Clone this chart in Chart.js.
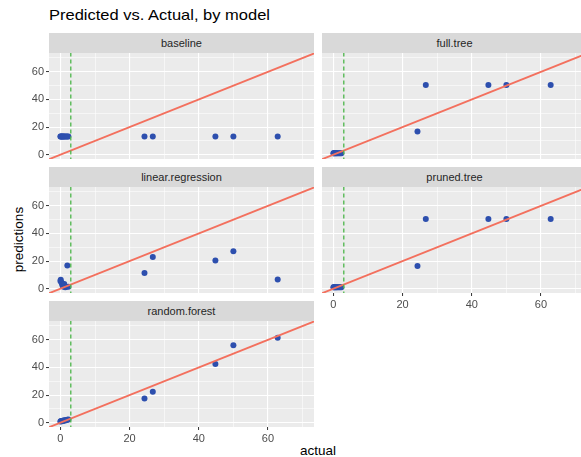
<!DOCTYPE html>
<html>
<head>
<meta charset="utf-8">
<script src="https://cdn.jsdelivr.net/npm/chart.js@4.4.1/dist/chart.umd.min.js"></script>
<style>
html, body { margin: 0; padding: 0; background: #fff; overflow: hidden; }
#wrap { position: relative; width: 581px; height: 457px; overflow: hidden; font-family: "Liberation Sans", Arial, sans-serif; }
#wrap canvas { position: absolute; }
.strip { position: absolute; width: 265px; height: 20px; background: #d9d9d9; color: #262626; font-size: 11px; line-height: 20px; text-align: center; }
#title { position: absolute; left: 49px; top: 6px; font-size: 15px; color: #000; white-space: nowrap; transform: scaleX(1.1); transform-origin: left top; }
#xlab { position: absolute; left: 218px; width: 200px; top: 443px; font-size: 13.5px; color: #000; text-align: center; }
#ylab { position: absolute; left: -32px; top: 232px; width: 100px; font-size: 13.5px; color: #000; text-align: center; transform: rotate(-90deg); }
</style>
</head>
<body>
<div id="wrap">
  <div id="title">Predicted vs. Actual, by model</div>
  <div id="xlab">actual</div>
  <div id="ylab">predictions</div>
</div>
<script>
// facet names
const models = ['baseline', 'full.tree', 'linear.regression', 'pruned.tree', 'random.forest'];

// observed values (same for every facet)
const actual = [0, 0.1, 0.3, 0.5, 0.7, 0.9, 1.1, 1.4, 1.7, 2.0, 2.3, 24.3, 26.7, 44.8, 50.0, 62.8];

// predictions per model, in the order of `actual`
const predBaseline = [13.2, 13.2, 13.2, 13.2, 13.2, 13.2, 13.2, 13.2, 13.2, 13.2, 13.2, 13.2, 13.2, 13.2, 13.2, 13.2];
const predFullTree = [1.0, 1.0, 1.0, 1.0, 1.0, 1.0, 1.0, 1.0, 1.0, 1.0, 1.0, 16.8, 50.5, 50.5, 50.5, 50.5];
const predLinear   = [5.5, 6.5, 4.5, 3.0, 2.0, 1.5, 3.5, 1.0, 1.5, 16.8, 1.5, 11.4, 22.9, 20.4, 27.2, 6.6];
const predPruned   = [1.0, 1.0, 1.0, 1.0, 1.0, 1.0, 1.0, 1.0, 1.0, 1.0, 1.0, 16.5, 50.4, 50.4, 50.4, 50.4];
const predForest   = [0.8, 1.0, 1.2, 1.0, 1.5, 1.4, 1.8, 1.6, 2.0, 2.2, 2.4, 17.5, 22.4, 42.5, 56.1, 61.4];
const predictions = [predBaseline, predFullTree, predLinear, predPruned, predForest];

// reference lines: y = x and the dashed cut-off
const identityLine = [-10, 80];
const cutoff = 3;

// axis ticks: labelled majors and unlabelled minors
const majorTicks = [0, 20, 40, 60];
const minorTicks = [10, 30, 50, 70];
const xRange = [-3.3, 73.3];
const yRange = [-3.1, 73.6];

// facet placement
const layout = [
  { left: 49, top: 53, col: 0, bottomRow: false },
  { left: 322, top: 53, col: 1, bottomRow: false },
  { left: 49, top: 187, col: 0, bottomRow: false },
  { left: 322, top: 187, col: 1, bottomRow: true },
  { left: 49, top: 321, col: 0, bottomRow: true }
];
const PW = 265, PH = 106, YAXIS = 49, XAXIS = 18;

const panelBg = {
  id: 'panelBg',
  beforeDraw(chart) {
    const a = chart.chartArea, c = chart.ctx;
    c.save();
    c.fillStyle = '#ebebeb';
    c.fillRect(a.left, a.top, a.right - a.left, a.bottom - a.top);
    c.restore();
  }
};

const allTicks = majorTicks.concat(minorTicks).sort((a, b) => a - b);
const isMajor = ctx => ctx.tick && majorTicks.includes(ctx.tick.value);
const tickFont = { family: '"Liberation Sans", Arial, sans-serif', size: 11 };

const wrap = document.getElementById('wrap');

models.forEach((name, i) => {
  const L = layout[i];
  const showY = L.col === 0;
  const showX = L.bottomRow;

  const strip = document.createElement('div');
  strip.className = 'strip';
  strip.style.left = L.left + 'px';
  strip.style.top = (L.top - 20) + 'px';
  strip.textContent = name;
  wrap.appendChild(strip);

  const canvas = document.createElement('canvas');
  canvas.width = PW + (showY ? YAXIS : 0);
  canvas.height = PH + (showX ? XAXIS : 0);
  canvas.style.left = (L.left - (showY ? YAXIS : 0)) + 'px';
  canvas.style.top = L.top + 'px';
  wrap.appendChild(canvas);

  const points = actual.map((a, k) => ({ x: a, y: predictions[i][k] }));

  new Chart(canvas.getContext('2d'), {
    type: 'scatter',
    data: {
      datasets: [
        {
          data: [{ x: cutoff, y: identityLine[0] }, { x: cutoff, y: identityLine[1] }],
          showLine: true, pointRadius: 0, borderColor: '#4cb64a', borderWidth: 1.3,
          borderDash: [4, 3], clip: 0
        },
        {
          data: identityLine.map(v => ({ x: v, y: v })),
          showLine: true, pointRadius: 0, borderColor: '#f3705e', borderWidth: 1.8, clip: 0
        },
        {
          data: points,
          pointRadius: 3, pointBackgroundColor: '#2d4fae', pointBorderWidth: 0, clip: 0
        }
      ]
    },
    options: {
      responsive: false,
      animation: false,
      events: [],
      layout: { padding: 0, autoPadding: false },
      plugins: { legend: { display: false }, tooltip: { enabled: false } },
      scales: {
        x: {
          type: 'linear', min: xRange[0], max: xRange[1],
          afterBuildTicks: s => { s.ticks = allTicks.map(v => ({ value: v })); },
          afterFit: s => {
            s.height = showX ? XAXIS : 0;
            s.paddingLeft = s.paddingRight = s.paddingTop = s.paddingBottom = 0;
          },
          border: { display: false },
          grid: {
            color: '#ffffff',
            lineWidth: ctx => isMajor(ctx) ? 1.1 : 0.55,
            drawTicks: showX, tickLength: 3,
            tickColor: ctx => isMajor(ctx) ? '#333333' : 'rgba(0,0,0,0)', tickWidth: 1
          },
          ticks: {
            display: showX, autoSkip: false, maxRotation: 0, padding: 2,
            color: '#4d4d4d', font: tickFont,
            callback: v => majorTicks.includes(v) ? String(v) : ''
          }
        },
        y: {
          type: 'linear', min: yRange[0], max: yRange[1],
          afterBuildTicks: s => { s.ticks = allTicks.map(v => ({ value: v })); },
          afterFit: s => {
            s.width = showY ? YAXIS : 0;
            s.paddingLeft = s.paddingRight = s.paddingTop = s.paddingBottom = 0;
          },
          border: { display: false },
          grid: {
            color: '#ffffff',
            lineWidth: ctx => isMajor(ctx) ? 1.1 : 0.55,
            drawTicks: showY, tickLength: 3,
            tickColor: ctx => isMajor(ctx) ? '#333333' : 'rgba(0,0,0,0)', tickWidth: 1
          },
          ticks: {
            display: showY, autoSkip: false, padding: 2,
            color: '#4d4d4d', font: tickFont,
            callback: v => majorTicks.includes(v) ? String(v) : ''
          }
        }
      }
    },
    plugins: [panelBg]
  });
});
</script>
</body>
</html>
